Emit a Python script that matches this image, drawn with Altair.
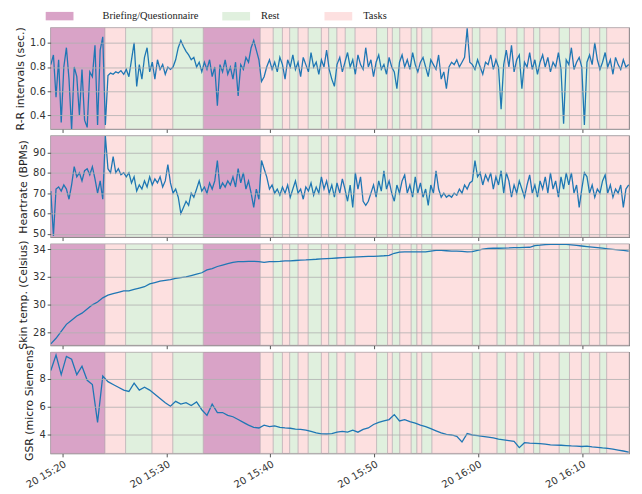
import altair as alt
import pandas as pd

DAY = "2019-02-20"

# ---- background phases (contiguous bands) ----
band_edges = ["15:18:51", "15:24:05", "15:26:04", "15:28:37", "15:30:37", "15:33:32",
              "15:39:02", "15:40:17", "15:41:10", "15:41:52", "15:42:41", "15:43:39",
              "15:44:55", "15:45:37", "15:46:25", "15:47:13", "15:48:10", "15:50:14",
              "15:51:17", "15:51:45", "15:52:28", "15:53:34", "15:54:07", "15:54:35",
              "15:55:34", "15:59:27", "16:00:11", "16:01:50", "16:02:38", "16:03:45",
              "16:04:27", "16:05:21", "16:05:57", "16:07:49", "16:08:48", "16:09:57",
              "16:10:43", "16:11:43", "16:12:23", "16:14:32"]
B, R, T = "Briefing/Questionnaire", "Rest", "Tasks"
band_kinds = [B, T, R, T, R, B, T, R, T, R, T, R, T, R, T, R, T, R, T, R,
              T, R, T, R, T, R, T, R, T, R, T, R, T, R, T, R, T, R, T]

briefing_color = "#d9a3c7"
rest_color = "#e0f0de"
tasks_color = "#fde0e0"

# ---- series ----
series_start = "15:18:52"
series_end = "16:14:30"

rr_values = [
    0.82, 0.90, 0.55, 0.86, 0.34, 0.80, 0.96, 0.70, 0.28, 0.80, 0.72, 0.40, 0.78, 0.36, 0.30,
    0.76, 0.72, 0.98, 0.32, 0.94, 1.05, 0.32,
    0.73, 0.75, 0.74, 0.76, 0.75, 0.77, 0.74,
    0.78, 0.72, 0.86, 1.00, 0.64, 0.82, 0.70, 0.88, 0.96, 0.76,
    0.84, 0.70, 0.86, 0.78, 0.82, 0.74, 0.80, 0.78,
    0.80, 0.86, 0.96, 1.02, 0.97, 0.93, 0.90, 0.86, 0.88, 0.80, 0.84, 0.76,
    0.84, 0.78, 0.86, 0.72, 0.80, 0.48, 0.82, 0.76, 0.86, 0.74, 0.80, 0.70, 0.84, 0.56,
    0.82, 0.78, 0.88, 0.84, 0.96, 1.02, 0.94, 0.86,
    0.68, 0.72,
    0.80, 0.86, 0.78, 0.84, 0.76, 0.88, 0.82, 0.70, 0.86, 0.80,
    0.90, 0.78, 0.84, 0.72, 0.88, 0.82, 0.76, 0.92, 0.80, 0.84,
    0.74, 0.86, 0.80, 0.94, 0.78, 0.70, 0.64, 0.82, 0.88, 0.76,
    0.84, 0.92, 0.80, 0.86, 0.74, 0.90, 0.82, 0.78, 0.96, 0.80,
    0.86, 0.72, 0.84, 0.90, 0.78, 0.82, 0.74, 0.88, 0.80, 0.76,
    0.62, 0.84, 0.90, 0.80, 0.86, 0.78, 0.92, 0.82, 0.76, 0.84,
    0.88, 0.80, 0.72, 0.86, 0.82, 0.78, 0.90, 0.70, 0.76, 0.62,
    0.80, 0.84, 0.82, 0.86, 0.80, 0.84, 0.88, 1.12, 0.84, 0.82,
    0.78, 0.86, 0.80, 0.74, 0.84, 0.82, 0.90, 0.78, 0.86, 0.80,
    0.45, 0.82, 0.94, 0.80, 0.98, 0.76, 0.86, 0.90, 0.62, 0.84,
    0.80, 0.92, 0.78, 0.86, 0.74, 0.84, 0.90, 0.80, 0.88, 0.76,
    0.84, 0.80, 0.92, 0.78, 0.33, 0.86, 0.82, 0.96, 0.78, 0.84,
    0.88, 0.80, 0.32, 0.84, 0.90, 0.82, 1.00, 0.86, 0.78, 0.84,
    0.92, 0.80, 0.86, 0.74, 0.88, 0.82, 0.78, 0.86, 0.80, 0.82,
]

hr_values = [
    71, 49, 72, 73, 71, 74, 72, 67, 74, 83, 78, 80, 76, 81, 82, 79, 83, 77, 70, 76,
    67, 98, 82, 80, 88, 80, 82, 79, 80, 78, 80, 75, 78, 71, 74, 72, 76, 73, 78, 74,
    77, 75, 78, 73, 76, 84, 75, 70, 72, 68, 60, 63, 66, 64, 70, 68, 72, 76, 71, 73,
    70, 75, 72, 76, 86, 72, 75, 73, 76, 74, 78, 73, 82, 75, 80, 72, 76, 70, 63, 72,
    67, 86, 82, 78, 72, 74, 70, 72, 69, 73, 70, 74, 68, 72, 76, 70, 72, 67, 73, 71,
    75, 69, 73, 70, 78, 72, 76, 70, 74, 68, 75, 70, 77, 72, 66, 74, 63, 80, 72, 78,
    66, 64, 66, 70, 74, 68, 76, 71, 81, 72, 76, 70, 66, 74, 70, 76, 79, 70, 74, 68,
    78, 70, 75, 68, 72, 64, 74, 70, 81, 72, 68, 70, 68, 69, 68, 70, 69, 72, 70, 74,
    72, 75, 76, 86, 78, 80, 74, 79, 76, 80, 72, 78, 74, 81, 70, 80, 76, 68, 74, 70,
    76, 72, 68, 74, 79, 70, 74, 68, 76, 72, 78, 70, 80, 72, 76, 68, 78, 72, 80, 74,
    80, 70, 74, 63, 72, 80, 78, 70, 74, 68, 72, 70, 76, 79, 70, 74, 68, 72, 70, 74,
    63, 72, 74,
]

skin_values = [
    27.2, 27.6, 28.1, 28.6, 28.9, 29.2, 29.4, 29.7, 30.0, 30.2, 30.5, 30.7, 30.8, 30.9,
    31.0, 31.0, 31.1, 31.2, 31.3, 31.5, 31.6, 31.7, 31.75, 31.8, 31.9, 31.95, 32.0, 32.1,
    32.2, 32.3, 32.5, 32.6, 32.75, 32.85, 32.95, 33.05, 33.1, 33.1, 33.12, 33.12, 33.1,
    33.05, 33.1, 33.1, 33.12, 33.15, 33.15, 33.18, 33.2, 33.22, 33.25, 33.27, 33.3, 33.32,
    33.34, 33.36, 33.38, 33.4, 33.42, 33.44, 33.46, 33.47, 33.48, 33.5, 33.52, 33.55,
    33.7, 33.78, 33.8, 33.8, 33.8, 33.8, 33.8, 33.86, 33.9, 33.9, 33.88, 33.86, 33.85,
    33.83, 33.8, 33.82, 33.9, 34.0, 34.05, 34.06, 34.06, 34.07, 34.08, 34.1, 34.1, 34.12,
    34.13, 34.25, 34.28, 34.32, 34.34, 34.34, 34.34, 34.33, 34.3, 34.26, 34.22, 34.18,
    34.14, 34.1, 34.06, 34.02, 33.98, 33.94, 33.9, 33.86,
]

gsr_values = [
    8.6, 9.7, 8.3, 9.6, 9.4, 8.3, 8.9, 7.9, 7.6, 4.9, 8.2, 7.8, 7.6, 7.4, 7.2, 7.1,
    7.7, 7.2, 7.4, 7.2, 6.9, 6.6, 6.3, 6.05, 6.4, 6.2, 6.3, 6.1, 6.35, 5.8, 5.4, 6.2,
    5.6, 5.6, 5.4, 5.3, 5.1, 4.9, 4.7, 4.55, 4.5, 4.7, 4.6, 4.65, 4.55, 4.5, 4.48, 4.42,
    4.4, 4.35, 4.25, 4.15, 4.08, 4.07, 4.1, 4.2, 4.25, 4.2, 4.35, 4.2, 4.4, 4.5, 4.75,
    4.9, 5.0, 5.1, 5.45, 5.0, 5.1, 4.95, 4.85, 4.7, 4.6, 4.45, 4.3, 4.15, 4.05, 4.0,
    3.9, 3.5, 4.1, 4.0, 3.95, 3.9, 3.85, 3.8, 3.7, 3.65, 3.6, 3.55, 3.1, 3.45, 3.42,
    3.4, 3.38, 3.35, 3.3, 3.28, 3.27, 3.25, 3.22, 3.2, 3.18, 3.2, 3.15, 3.12, 3.08,
    3.05, 3.0, 2.93, 2.86, 2.78,
]

x_tick_minutes = [(15, 20), (15, 30), (15, 40), (15, 50), (16, 0), (16, 10)]


def dt(hms):
    h, m, s = (int(p) for p in hms.split(":"))
    return alt.DateTime(year=2019, month=2, date=20, hours=h, minutes=m, seconds=s)


def series_frame(values):
    t = pd.date_range(f"{DAY} {series_start}", f"{DAY} {series_end}", periods=len(values))
    return pd.DataFrame({"time": t.strftime("%Y-%m-%dT%H:%M:%S"), "value": values})


bands_df = pd.DataFrame({
    "start": [f"{DAY}T{s}" for s in band_edges[:-1]],
    "end": [f"{DAY}T{e}" for e in band_edges[1:]],
    "kind": band_kinds,
})
briefing_df = bands_df[bands_df["kind"] == B]
activity_df = bands_df[bands_df["kind"] != B]

x_scale = alt.Scale(domain=[dt(band_edges[0]), dt(band_edges[-1])])
x_ticks = [alt.DateTime(year=2019, month=2, date=20, hours=h, minutes=m) for h, m in x_tick_minutes]
briefing_scale = alt.Scale(domain=[B], range=[briefing_color])
activity_scale = alt.Scale(domain=[R, T], range=[rest_color, tasks_color])

swatch = "M-2.8,-0.85H2.8V0.85H-2.8Z"
legend_style = dict(
    title=None, orient="none", legendY=-17, direction="horizontal",
    symbolType=swatch, symbolSize=100, symbolStrokeWidth=0,
    labelFont="Times New Roman", labelFontSize=10.5, labelColor="#222", symbolOpacity=1,
)
legend_briefing = alt.Legend(legendX=3.75, labelOffset=38, columns=1, **legend_style)
legend_activity = alt.Legend(legendX=181.75, labelOffset=19.75, columns=2, columnPadding=45,
                             **legend_style)


def panel(values, title, ticks, domain, fmt, bottom, with_legend):
    if bottom:
        xaxis = alt.Axis(values=x_ticks, format="%d %H:%M", labelAngle=-30, labelAlign="right",
                         labelBaseline="top", title=None, grid=False, domain=False,
                         tickSize=3.5, labelPadding=2)
    else:
        xaxis = alt.Axis(values=x_ticks, labels=False, title=None, grid=False, domain=False,
                         tickSize=3.5)
    bands_b = alt.Chart(briefing_df).mark_rect(stroke="#b8aab2", strokeWidth=0.6).encode(
        x=alt.X("start:T", scale=x_scale, axis=xaxis),
        x2="end:T",
        fill=alt.Fill("kind:N", scale=briefing_scale,
                      legend=legend_briefing if with_legend else None),
    )
    bands_a = alt.Chart(activity_df).mark_rect(stroke="#b8aab2", strokeWidth=0.6).encode(
        x=alt.X("start:T", scale=x_scale, axis=xaxis),
        x2="end:T",
        color=alt.Color("kind:N", scale=activity_scale,
                        legend=legend_activity if with_legend else None),
    )
    line = alt.Chart(series_frame(values)).mark_line(
        color="#1f77b4", strokeWidth=1.3, clip=True
    ).encode(
        x=alt.X("time:T", scale=x_scale, axis=xaxis),
        y=alt.Y("value:Q", scale=alt.Scale(domain=domain, nice=False, zero=False),
                axis=alt.Axis(title=title, values=ticks, format=fmt, grid=True, zindex=1,
                              tickSize=3.5, labelPadding=2, titlePadding=4, domain=False)),
    )
    return alt.layer(bands_b, bands_a, line).properties(width=583, height=102)


p1 = panel(rr_values, "R-R intervals (sec.)", [0.4, 0.6, 0.8, 1.0], [0.287, 1.125], ".1f", False, True)
p2 = panel(hr_values, "Heartrate (BPMs)", [50, 60, 70, 80, 90], [48.4, 98.1], "d", False, False)
p3 = panel(skin_values, "Skin temp. (Celsius)", [28, 30, 32, 34], [27.1, 34.36], "d", False, False)
p4 = panel(gsr_values, "GSR (micro Siemens)", [4, 6, 8], [2.69, 9.9], "d", True, False)

chart = alt.vconcat(p1, p2, p3, p4, spacing=7, bounds="flush").resolve_scale(
    color="independent", fill="independent"
).properties(
    padding={"left": 5, "top": 0, "right": 4, "bottom": 0}
).configure_view(
    stroke="#7a7a7a", strokeWidth=1.2
).configure_axis(
    labelFont="DejaVu Sans", titleFont="DejaVu Sans", labelFontSize=10, titleFontSize=11,
    titleFontWeight="normal", labelColor="#333", titleColor="#222", tickColor="#555",
    gridColor="#b0b0b0", gridWidth=0.8,
)

chart.save("out.html", embed_options={"renderer": "svg", "actions": False})
